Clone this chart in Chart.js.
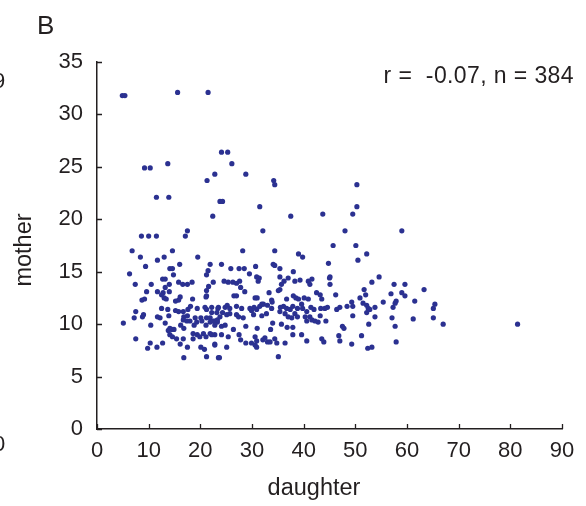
<!DOCTYPE html>
<html>
<head>
<meta charset="utf-8">
<script src="https://cdn.jsdelivr.net/npm/chart.js@4"></script>
<style>
  html, body { margin: 0; padding: 0; background: #fff; }
</style>
</head>
<body>
<canvas class="chart" width="586" height="506"></canvas>
<script>
// daughter vs mother, one pair per point
const daughter = [
  4.9, 5.4, 15.6, 21.5, 24.1, 25.3, 26.1, 9.2, 10.3, 13.7, 22.8, 21.3, 28.8, 11.5, 13.9, 23.8, 24.3,
  34.2, 34.4, 50.3, 31.5, 50.3, 59.0, 67.0, 81.4,
  22.4, 17.5, 17.1, 8.6, 10.0, 11.5, 6.8, 8.4, 14.6, 11.7, 13.0, 19.5, 16.0, 9.4, 14.1, 14.6, 21.9, 21.5, 21.2,
  6.3, 14.8, 12.7, 13.2, 7.4, 10.5, 14.0, 15.8, 16.6, 17.5, 18.4, 13.2, 11.7, 12.8, 14.0, 9.6, 21.6, 21.2,
  12.5, 13.0, 13.4, 8.7, 9.2, 16.1, 15.8, 15.2, 18.5, 21.1, 21.2, 12.5, 13.7, 7.5, 15.2, 15.8, 16.7, 17.6,
  18.1, 19.4, 20.9, 21.2, 23.4, 22.2, 7.2, 8.8, 9.0, 11.7, 12.2, 13.9, 16.8, 17.5, 16.7, 17.4, 19.0, 20.1,
  21.2, 21.9, 5.1, 10.4, 13.2, 14.1, 16.2, 16.8, 18.0, 18.8, 19.3, 20.3, 21.1, 21.9, 22.8, 23.3, 13.8, 14.5,
  14.9, 14.1, 14.6, 7.5, 10.3, 9.8, 11.6, 12.7, 15.4, 16.1, 16.7, 17.5, 18.6, 19.4, 19.9, 20.6, 21.1, 21.9,
  22.8, 18.6, 20.1, 20.8, 22.8, 16.8, 21.2, 23.5,
  37.5, 43.7, 32.1, 28.2, 34.4, 39.0, 39.8, 24.1, 30.7, 34.1, 34.4, 44.8, 25.9, 27.5, 28.5, 35.4, 29.5, 30.9,
  31.4, 31.2, 35.4, 38.0, 37.0, 36.2, 38.3, 39.3, 40.9, 41.6, 41.2, 45.0, 24.6, 25.4, 26.3, 27.0, 27.6, 22.5,
  27.8, 28.6, 35.7, 35.4, 35.1, 33.3, 26.5, 27.0, 30.6, 31.0, 33.8, 33.9, 36.7, 38.0, 38.5, 39.0, 40.1, 40.9,
  42.5, 43.2, 39.6, 31.9, 22.2, 23.5, 24.8, 25.2, 25.7, 27.0, 28.0, 29.6, 30.4, 30.9, 31.5, 32.2, 33.0, 33.8,
  35.5, 36.1, 36.7, 37.4, 37.9, 38.8, 39.8, 40.6, 41.4, 42.0, 43.3, 44.1, 44.6, 23.2, 24.3, 25.1, 25.7, 27.0,
  27.4, 28.3, 29.9, 30.3, 31.9, 32.8, 35.4, 36.4, 37.0, 37.7, 38.3, 38.8, 40.3, 41.2, 41.6, 40.6, 42.2, 42.8,
  44.3, 22.5, 23.3, 23.8, 22.8, 24.1, 24.8, 26.4, 28.8, 31.0, 33.6, 34.0, 35.7, 36.8, 37.9, 22.2, 24.1, 25.4,
  27.5, 27.8, 28.8, 29.9, 30.6, 30.9, 32.1, 32.5, 33.0, 33.5, 34.4, 34.8, 36.4, 37.9, 39.6, 40.6, 22.8, 25.1,
  30.6, 30.9, 23.7, 35.1, 43.5, 43.9,
  49.5, 48.0, 45.7, 50.1, 52.2, 50.5, 45.1, 45.1, 53.2, 54.6, 46.2, 51.7, 52.0, 50.9, 57.5, 59.6, 56.9, 59.0,
  59.6, 63.3, 43.5, 49.3, 49.5, 48.4, 47.0, 46.4, 51.5, 52.2, 52.5, 52.8, 53.8, 52.2, 55.4, 57.9, 57.7, 57.3,
  61.5, 65.4, 65.1, 43.2, 49.5, 53.8, 57.1, 61.2, 65.1, 52.6, 57.7, 47.5, 47.8, 46.8, 47.0, 51.2, 49.3, 57.9,
  52.4, 53.2
];
const mother = [
  31.8, 31.8, 32.1, 32.1, 26.4, 26.4, 25.3, 24.9, 24.9, 25.3, 24.3, 23.7, 24.3, 22.1, 22.1, 21.7, 21.7,
  23.7, 23.3, 23.3, 21.2, 21.2, 18.9, 10.0, 10.0,
  20.3, 18.9, 18.4, 18.4, 18.4, 18.4, 17.0, 16.4, 17.0, 16.1, 16.4, 16.4, 15.7, 15.5, 15.3, 15.3, 15.7, 15.1, 14.7,
  14.8, 14.7, 14.3, 14.3, 13.8, 13.8, 13.8, 14.0, 13.8, 13.8, 14.0, 13.5, 13.1, 13.0, 13.1, 13.1, 13.6, 13.2,
  12.8, 12.5, 12.4, 12.3, 12.4, 12.6, 12.3, 12.2, 12.4, 12.6, 12.7, 11.5, 11.4, 11.2, 11.3, 11.2, 11.2, 11.4,
  11.7, 11.5, 11.6, 11.4, 11.5, 11.1, 10.6, 10.7, 10.9, 10.7, 10.6, 10.8, 10.7, 10.8, 10.4, 10.3, 10.6, 10.6,
  10.6, 10.6, 10.1, 9.9, 10.1, 9.6, 9.9, 9.6, 10.3, 9.9, 10.2, 10.3, 9.9, 10.2, 10.3, 10.2, 9.4, 9.5,
  9.5, 9.0, 8.8, 8.6, 8.2, 7.7, 7.8, 8.2, 8.6, 8.1, 8.6, 7.8, 9.1, 9.0, 8.8, 9.1, 8.8, 9.1,
  9.0, 8.6, 7.8, 7.6, 8.1, 6.8, 6.9, 6.8,
  20.3, 20.5, 18.9, 17.0, 17.0, 16.7, 16.4, 15.7, 15.5, 15.7, 15.6, 15.8, 15.3, 15.3, 15.3, 15.3, 14.8, 14.5,
  14.4, 14.1, 14.5, 15.0, 14.4, 14.1, 14.1, 14.2, 14.1, 14.3, 13.8, 14.4, 14.1, 14.0, 14.0, 13.9, 14.1, 14.0,
  13.5, 13.1, 13.8, 13.3, 13.2, 13.0, 12.7, 12.7, 12.5, 12.5, 12.3, 12.1, 12.4, 12.7, 12.5, 12.4, 12.5, 12.4,
  13.0, 12.8, 11.9, 11.9, 11.6, 11.6, 11.6, 11.8, 11.5, 11.7, 11.5, 11.5, 11.6, 11.4, 11.7, 11.9, 11.8, 11.5,
  11.6, 11.7, 11.5, 11.4, 11.7, 11.5, 11.5, 11.2, 11.6, 11.4, 11.5, 11.5, 11.6, 11.1, 11.1, 10.9, 11.0, 10.9,
  10.7, 10.6, 11.3, 10.9, 10.8, 11.0, 11.2, 11.0, 10.7, 10.6, 11.0, 10.7, 10.7, 10.7, 10.4, 10.3, 10.3, 10.2,
  10.3, 10.3, 10.4, 10.7, 9.9, 9.8, 9.9, 9.5, 9.8, 9.6, 9.5, 10.1, 10.0, 9.7, 9.7, 9.0, 9.0, 8.8,
  9.0, 8.5, 8.2, 8.2, 8.8, 8.4, 8.5, 8.7, 8.3, 8.3, 8.6, 8.2, 8.2, 9.0, 9.0, 8.4, 8.0, 7.8,
  8.0, 7.8, 6.8, 6.9, 8.6, 8.3,
  20.5, 18.9, 17.5, 17.5, 16.7, 16.1, 14.5, 13.8, 14.0, 14.5, 12.8, 13.3, 12.8, 12.5, 13.8, 13.8, 12.9, 13.0,
  12.7, 13.3, 12.4, 12.1, 11.7, 11.7, 11.6, 11.4, 12.0, 11.8, 11.5, 11.4, 11.6, 11.1, 12.1, 12.2, 12.0, 11.6,
  12.2, 11.9, 11.5, 10.8, 10.8, 10.7, 10.6, 10.5, 10.6, 10.0, 9.8, 9.8, 9.6, 8.9, 8.4, 8.9, 8.1, 8.3,
  7.7, 7.8
];

const xTicks = [0, 10, 20, 30, 40, 50, 60, 70, 80, 90];
const yTicks = [0, 5, 10, 15, 20, 25, 30, 35];
const statText = 'r =  -0.07, n = 384';
const panelLabel = 'B';

const FONT = 'Liberation Sans, Arial, sans-serif';
const INK = '#231f20';
const DOT = '#2b3191';

const points = daughter.map((d, i) => ({ x: d, y: mother[i] }));

// inward tick marks, axis titles, panel letter, stat line
const extras = {
  id: 'extras',
  afterDraw(chart) {
    const { ctx, chartArea, scales } = chart;
    ctx.save();
    ctx.strokeStyle = INK;
    ctx.lineWidth = 1.3;
    ctx.beginPath();
    yTicks.forEach(v => {
      const py = Math.round(scales.y.getPixelForValue(v)) + 0.5;
      ctx.moveTo(chartArea.left, py);
      ctx.lineTo(chartArea.left + 5, py);
    });
    xTicks.forEach(v => {
      const px = Math.round(scales.x.getPixelForValue(v)) + 0.5;
      ctx.moveTo(px, chartArea.bottom);
      ctx.lineTo(px, chartArea.bottom - 5);
    });
    ctx.stroke();

    ctx.fillStyle = INK;
    ctx.textBaseline = 'alphabetic';
    ctx.font = '26px ' + FONT;
    ctx.fillText(panelLabel, 37, 34);

    ctx.font = '23px ' + FONT;
    ctx.textAlign = 'right';
    ctx.letterSpacing = '0.4px';
    ctx.fillText(statText, 574, 83);
    ctx.letterSpacing = '0px';

    ctx.textAlign = 'center';
    ctx.font = '23.5px ' + FONT;
    ctx.fillText('daughter', 314, 495);
    ctx.save();
    ctx.translate(31, 250);
    ctx.rotate(-Math.PI / 2);
    ctx.fillText('mother', 0, 0);
    ctx.restore();

    // cut-off labels of the neighbouring panel
    ctx.textAlign = 'left';
    ctx.font = '22px ' + FONT;
    ctx.fillText('9', -7, 88);
    ctx.fillText('0', -7, 451);
    ctx.restore();
  }
};

new Chart(document.querySelector('.chart'), {
  type: 'scatter',
  data: {
    datasets: [{
      data: points,
      backgroundColor: DOT,
      borderWidth: 0,
      pointRadius: 2.6,
      pointHoverRadius: 2.6
    }]
  },
  options: {
    responsive: false,
    animation: false,
    events: [],
    layout: { padding: { left: 0, top: 62, right: 24, bottom: 0 } },
    plugins: { legend: { display: false }, tooltip: { enabled: false } },
    scales: {
      x: {
        type: 'linear',
        min: 0, max: 90,
        afterFit: s => { s.height = 77; },
        afterBuildTicks: s => { s.ticks = xTicks.map(v => ({ value: v })); },
        grid: { display: false },
        border: { display: true, color: INK, width: 1.5 },
        ticks: { color: INK, font: { family: FONT, size: 22 }, padding: 1, maxRotation: 0 }
      },
      y: {
        type: 'linear',
        min: 0, max: 35,
        afterFit: s => { s.width = 97; },
        afterBuildTicks: s => { s.ticks = yTicks.map(v => ({ value: v })); },
        grid: { display: false },
        border: { display: true, color: INK, width: 1.5 },
        ticks: { color: INK, font: { family: FONT, size: 22 }, padding: 6 }
      }
    }
  },
  plugins: [extras]
});
</script>
</body>
</html>
